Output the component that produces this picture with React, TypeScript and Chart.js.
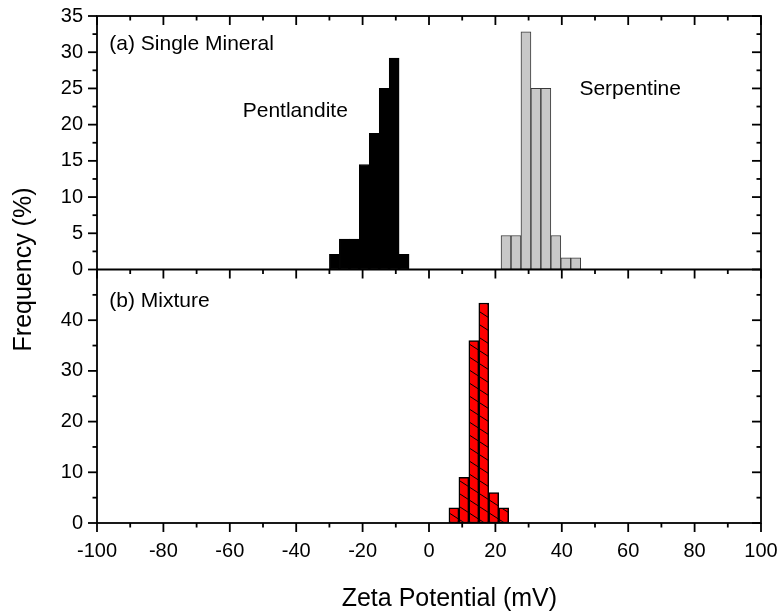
import React, { useEffect, useRef } from 'react';
import { Chart, registerables } from 'chart.js';

Chart.register(...registerables);

// ---- data (bin centres in mV, frequency in %) ----
const pentlanditeBins = [-28.5, -25.5, -22.5, -19.5, -16.5, -13.5, -10.5, -7.5];
const pentlanditeFreq = [2.1, 4.2, 4.2, 14.5, 18.8, 25.0, 29.2, 2.1];

const serpentineBins = [23.2, 26.2, 29.2, 32.2, 35.2, 38.2, 41.2, 44.2];
const serpentineFreq = [4.7, 4.7, 32.8, 25.0, 25.0, 4.7, 1.6, 1.6];

const mixtureBins = [7.5, 10.5, 13.5, 16.5, 19.5, 22.5];
const mixtureFreq = [3.0, 9.0, 36.0, 43.4, 6.0, 3.0];

// ---- tick labels ----
const xTicks = [-100, -80, -60, -40, -20, 0, 20, 40, 60, 80, 100];
const topYTicks = [0, 5, 10, 15, 20, 25, 30, 35];
const bottomYTicks = [0, 10, 20, 30, 40];

const X_MIN = -100;
const X_MAX = 100;
const TOP_MAX = 35;
const BOTTOM_MAX = 50;

// ---- texts ----
const xTitle = 'Zeta Potential (mV)';
const yTitle = 'Frequency (%)';
const annotations = [
  { text: '(a) Single Mineral', x: -96.3, y: 30.3, axis: 'yt' },
  { text: 'Pentlandite', x: -56.1, y: 21.1, axis: 'yt' },
  { text: 'Serpentine', x: 45.3, y: 24.1, axis: 'yt' },
  { text: '(b) Mixture', x: -96.3, y: 42.6, axis: 'yb' },
];

const FONT = "'Liberation Sans', Arial, sans-serif";

function minorsOf(majors: number[], max: number): number[] {
  const all = [...majors];
  if (all[all.length - 1] < max) all.push(max);
  const out: number[] = [];
  for (let i = 0; i < all.length - 1; i++) out.push((all[i] + all[i + 1]) / 2);
  return out;
}

function makeHatch(): CanvasPattern | string {
  const c = document.createElement('canvas');
  c.width = 20;
  c.height = 13;
  const g = c.getContext('2d');
  if (!g) return '#ff0000';
  g.fillStyle = '#ff0000';
  g.fillRect(0, 0, 20, 13);
  g.strokeStyle = '#000';
  g.lineWidth = 1;
  for (const k of [-13, 0, 13]) {
    g.beginPath();
    g.moveTo(-2, k - 1.3);
    g.lineTo(22, k + 14.3);
    g.stroke();
  }
  const p = g.createPattern(c, 'repeat');
  return p || '#ff0000';
}

const framePlugin = {
  id: 'framePlugin',
  afterDatasetsDraw(chart: any) {
    const { ctx, chartArea: a, scales } = chart;
    const xs = scales.x;
    const yt = scales.yt;
    const yb = scales.yb;
    const mid = yb.top;
    ctx.save();
    ctx.strokeStyle = '#000';
    ctx.lineWidth = 1.8;
    ctx.lineCap = 'butt';
    ctx.strokeRect(a.left, a.top, a.right - a.left, a.bottom - a.top);
    ctx.beginPath();
    ctx.moveTo(a.left, mid);
    ctx.lineTo(a.right, mid);
    ctx.stroke();

    const MAJ = 9;
    const MIN = 4.5;
    const seg = (x1: number, y1: number, x2: number, y2: number) => {
      ctx.beginPath();
      ctx.moveTo(x1, y1);
      ctx.lineTo(x2, y2);
      ctx.stroke();
    };
    // x ticks: bottom (outward), middle (down), top (inward)
    const xMin = minorsOf(xTicks, X_MAX);
    const xAll = [...xTicks.map((v) => [v, MAJ]), ...xMin.map((v) => [v, MIN])];
    for (const [v, len] of xAll) {
      const px = xs.getPixelForValue(v);
      seg(px, a.bottom, px, a.bottom + len);
      seg(px, mid, px, mid + len);
      seg(px, a.top, px, a.top + len);
    }
    // y ticks
    const ySets: [any, number[], number][] = [
      [yt, topYTicks, TOP_MAX],
      [yb, bottomYTicks, BOTTOM_MAX],
    ];
    for (const [sc, majors, max] of ySets) {
      const all = [...majors.map((v) => [v, MAJ]), ...minorsOf(majors, max).map((v) => [v, MIN])];
      for (const [v, len] of all) {
        const py = sc.getPixelForValue(v);
        seg(a.left - len, py, a.left, py);
        seg(a.right - len, py, a.right, py);
      }
    }

    // annotations
    ctx.fillStyle = '#000';
    ctx.font = `21px ${FONT}`;
    ctx.textAlign = 'left';
    ctx.textBaseline = 'alphabetic';
    for (const an of annotations) {
      const sc = scales[an.axis];
      ctx.fillText(an.text, xs.getPixelForValue(an.x), sc.getPixelForValue(an.y));
    }

    // axis titles
    ctx.font = `25px ${FONT}`;
    ctx.textAlign = 'left';
    ctx.fillText(xTitle, xs.getPixelForValue(-26.3), 606);
    ctx.save();
    ctx.textAlign = 'center';
    ctx.translate(31, (a.top + a.bottom) / 2);
    ctx.rotate(-Math.PI / 2);
    ctx.fillText(yTitle, 0, 0);
    ctx.restore();

    ctx.restore();
  },
};

export default function App() {
  const ref = useRef<HTMLCanvasElement | null>(null);

  useEffect(() => {
    if (!ref.current) return;
    const hatch = makeHatch();
    const tickFont = { family: FONT, size: 20 };
    const barCommon = {
      barThickness: 'flex' as const,
      categoryPercentage: 1,
      barPercentage: 1,
      borderSkipped: false as const,
      stack: 'hist',
      xAxisID: 'x',
    };
    const yFit = (s: any) => {
      s.width = 97;
      s.paddingTop = 0;
      s.paddingBottom = 0;
      s.paddingLeft = 0;
      s.paddingRight = 0;
    };
    const chart = new Chart(ref.current, {
      type: 'bar',
      data: {
        datasets: [
          {
            ...barCommon,
            label: 'Pentlandite',
            yAxisID: 'yt',
            data: pentlanditeBins.map((b, i) => ({ x: b, y: pentlanditeFreq[i] })),
            backgroundColor: '#000000',
            borderColor: '#000000',
            borderWidth: 1,
          },
          {
            ...barCommon,
            label: 'Serpentine',
            yAxisID: 'yt',
            data: serpentineBins.map((b, i) => ({ x: b, y: serpentineFreq[i] })),
            backgroundColor: '#c8c8c8',
            borderColor: '#3a3a3a',
            borderWidth: 1,
          },
          {
            ...barCommon,
            label: 'Mixture',
            yAxisID: 'yb',
            data: mixtureBins.map((b, i) => ({ x: b, y: mixtureFreq[i] })),
            backgroundColor: hatch as any,
            borderColor: '#000000',
            borderWidth: 1.5,
          },
        ] as any,
      },
      options: {
        responsive: false,
        animation: false,
        layout: { padding: { top: 16, right: 18, left: 0, bottom: 0 } },
        plugins: { legend: { display: false }, tooltip: { enabled: false } },
        scales: {
          x: {
            type: 'linear',
            min: X_MIN,
            max: X_MAX,
            offset: false,
            stacked: true,
            grid: { display: false, drawTicks: false },
            border: { display: false },
            ticks: { font: tickFont, color: '#000', padding: 16, autoSkip: false, maxRotation: 0 },
            afterBuildTicks: (s: any) => {
              s.ticks = xTicks.map((v) => ({ value: v }));
            },
            afterFit: (s: any) => {
              s.height = 90;
              s.paddingTop = 0;
              s.paddingBottom = 0;
              s.paddingLeft = 0;
              s.paddingRight = 0;
            },
          },
          yb: {
            type: 'linear',
            position: 'left',
            stack: 'panels',
            stackWeight: 1,
            min: 0,
            max: BOTTOM_MAX,
            grid: { display: false, drawTicks: false },
            border: { display: false },
            ticks: { font: tickFont, color: '#000', padding: 14, autoSkip: false },
            afterBuildTicks: (s: any) => {
              s.ticks = bottomYTicks.map((v) => ({ value: v }));
            },
            afterFit: yFit,
          },
          yt: {
            type: 'linear',
            position: 'left',
            stack: 'panels',
            stackWeight: 1,
            min: 0,
            max: TOP_MAX,
            grid: { display: false, drawTicks: false },
            border: { display: false },
            ticks: { font: tickFont, color: '#000', padding: 14, autoSkip: false },
            afterBuildTicks: (s: any) => {
              s.ticks = topYTicks.map((v) => ({ value: v }));
            },
            afterFit: yFit,
          },
        } as any,
      },
      plugins: [framePlugin],
    });
    return () => chart.destroy();
  }, []);

  return (
    <div style={{ position: 'absolute', left: 0, top: 0, width: 779, height: 613, background: '#fff' }}>
      <canvas ref={ref} width={779} height={613} style={{ display: 'block' }} />
    </div>
  );
}
